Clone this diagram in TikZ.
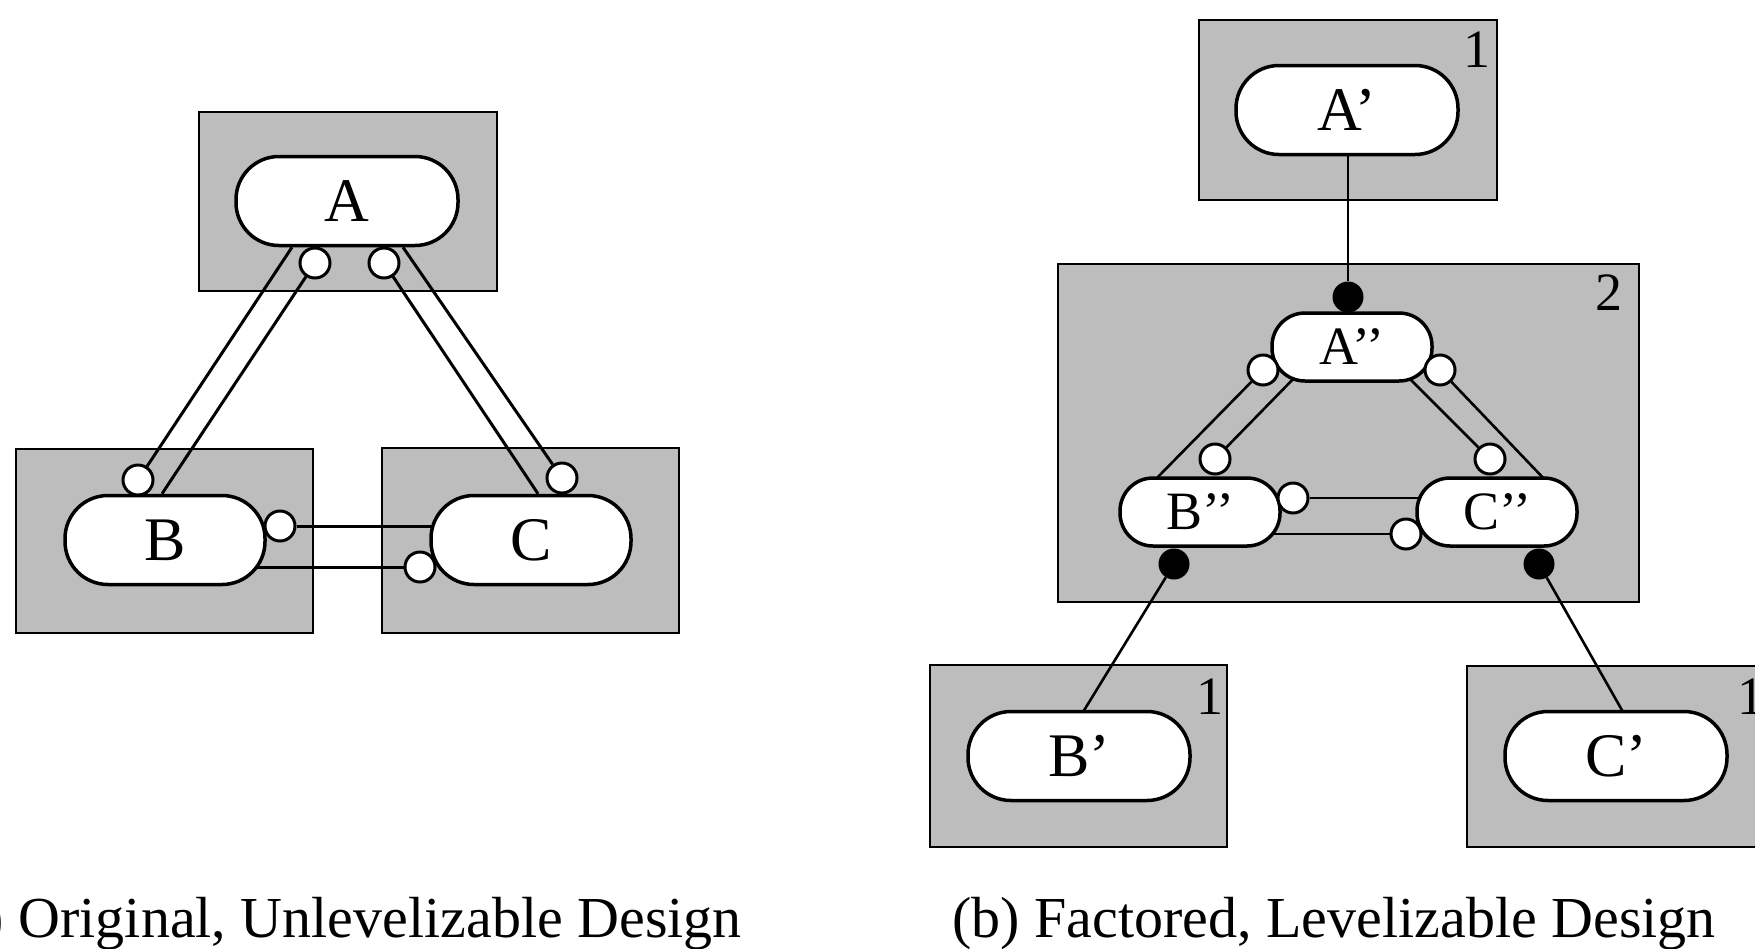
\documentclass[tikz,border=0pt]{standalone}
\usepackage{fontspec}
\setmainfont{Liberation Serif}
\usetikzlibrary{calc}
\pgfdeclarelayer{boxlayer}
\pgfdeclarelayer{linelayer}
\pgfsetlayers{boxlayer,linelayer,main}
\newcommand{\nodefont}{\fontsize{62pt}{62pt}\selectfont}
\newcommand{\smallnodefont}{\fontsize{54pt}{54pt}\selectfont}
\newcommand{\capfont}{\fontsize{58pt}{58pt}\selectfont}
\definecolor{halftone}{gray}{0.74}
\tikzset{
  grpbox/.style={fill=halftone, draw=black, line width=2.2pt},
  pill/.style={draw=black, fill=white, line width=3.5pt, inner sep=0pt, font=\nodefont},
  bigpill/.style={pill, minimum width=222pt, minimum height=89pt, rounded corners=43pt},
  midpill/.style={pill, minimum width=200pt, minimum height=89pt, rounded corners=43pt},
  smallpill/.style={pill, font=\smallnodefont, minimum width=160pt, minimum height=68pt, rounded corners=33pt},
  ocirc/.style={circle, draw=black, fill=white, line width=3pt, minimum size=30pt, inner sep=0pt},
  fdot/.style={circle, fill=black, minimum size=31pt, inner sep=0pt},
  conn/.style={draw=black, line width=3pt},
  thinconn/.style={draw=black, line width=2.6pt},
  lvl/.style={font=\smallnodefont, inner sep=0pt},
  capt/.style={font=\capfont, inner sep=0pt, anchor=base east}
}
\begin{document}
\begin{tikzpicture}[x=1pt,y=-1pt]
\path[use as bounding box] (0,0) rectangle (1755,948);
\clip (0,0) rectangle (1755,948);

% ---------- group boxes ----------
\begin{pgfonlayer}{boxlayer}
  \draw[grpbox] (199,112) rectangle (497,291);
  \draw[grpbox] (16,449) rectangle (313,633);
  \draw[grpbox] (382,448) rectangle (679,633);
  \draw[grpbox] (1199,20) rectangle (1497,200);
  \draw[grpbox] (1058,264) rectangle (1639,602);
  \draw[grpbox] (930,665) rectangle (1227,847);
  \draw[grpbox] (1467,666) rectangle (1768,847);
\end{pgfonlayer}

% ---------- (a) original design ----------
\node[bigpill] (A) at (347,201) {A};
\node[midpill] (B) at (165,540) {B};
\node[midpill] (C) at (531,540) {C};

\node[ocirc] (cA1) at (315,263) {};
\node[ocirc] (cA2) at (384,263) {};
\node[ocirc] (cB1) at (138,480) {};
\node[ocirc] (cB2) at (280,526) {};
\node[ocirc] (cC1) at (562,478) {};
\node[ocirc] (cC2) at (420,567) {};

\begin{pgfonlayer}{linelayer}
  \draw[conn] ($(A.south)+(-55,0)$) -- (cB1);
  \draw[conn] (cA1) -- ($(B.north)+(-3,0)$);
  \draw[conn] ($(A.south)+(56,0)$) -- (cC1);
  \draw[conn] (cA2) -- ($(C.north)+(7,0)$);
  \draw[conn] (cB2) -- (cB2 -| C);
  \draw[conn] (cC2 -| B) -- (cC2);
\end{pgfonlayer}

% ---------- (b) factored design ----------
\node[bigpill] (A1) at (1347,110) {A’};
\node[smallpill] (A2) at (1352,347) {A’’};
\node[smallpill] (B2) at (1200,512) {B’’};
\node[smallpill] (C2) at (1497,512) {C’’};
\node[bigpill] (B1) at (1079,756) {B’};
\node[bigpill] (C1) at (1616,756) {C’};

\node[fdot] (dA) at (1348,297) {};
\node[fdot] (dB) at (1174,564) {};
\node[fdot] (dC) at (1539,564) {};

\node[ocirc] (cA2l) at (1263,370) {};
\node[ocirc] (cA2r) at (1440,370) {};
\node[ocirc] (cB2t) at (1215,459) {};
\node[ocirc] (cC2t) at (1490,459) {};
\node[ocirc] (cB2r) at (1293,498) {};
\node[ocirc] (cC2l) at (1406,534) {};

\begin{pgfonlayer}{linelayer}
  \draw[thinconn, line width=2pt] (dA |- A1.south) -- (dA);
  \draw[thinconn] (cA2l) -- ($(B2)+(-49,-28)$);
  \draw[thinconn] ($(A2)+(-51,24)$) -- (cB2t);
  \draw[thinconn] ($(A2)+(50,24)$) -- (cC2t);
  \draw[thinconn] (cA2r) -- ($(C2)+(52,-28)$);
  \draw[thinconn] (cB2r) -- (cB2r -| C2);
  \draw[thinconn] (cC2l -| B2) -- (cC2l);
  \draw[thinconn] (dB) -- ($(B1)+(4,-44)$);
  \draw[thinconn] (dC) -- ($(C1)+(7,-44)$);
\end{pgfonlayer}

\node[lvl] (lA1) at (1477,50) {1};
\node[lvl] (lM) at (1609,293) {2};
\node[lvl] (lB1) at (1210,697) {1};
\node[lvl] (lC1) at (1751,697) {1};

% ---------- captions ----------
\node[capt] (capa) at (742,937) {(a) Original, Unlevelizable Design};
\node[capt] (capb) at (1716,937) {(b) Factored, Levelizable Design};
\end{tikzpicture}
\end{document}
